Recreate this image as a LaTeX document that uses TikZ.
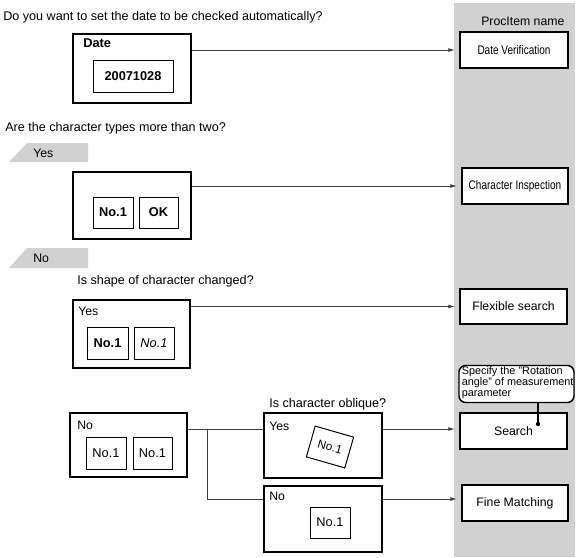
\documentclass[tikz,border=0pt]{standalone}
\usepackage{fontspec}
\setmainfont{Liberation Sans}
\newfontfamily\condfont[FakeStretch=0.8]{Liberation Sans}
\usetikzlibrary{arrows.meta}
\definecolor{panel}{gray}{0.82}
\definecolor{wire}{gray}{0.25}
\begin{document}
\begin{tikzpicture}[x=0.75pt,y=-0.75pt,
  every node/.style={font=\fontsize{9.2}{11}\selectfont, inner sep=0pt},
  sz/.style 2 args={minimum width=#1*0.75pt, minimum height=#2*0.75pt},
  obox/.style={draw, line width=1.5pt, fill=white},
  ibox/.style={draw, line width=0.75pt, fill=white},
  pbox/.style={draw, line width=1.5pt, fill=white},
  bfont/.style={font=\fontsize{9.6}{11}\selectfont\bfseries},
  lab/.style={anchor=base west},
  question/.style={anchor=base west, font=\fontsize{9.45}{11}\selectfont},
  tabshape/.style={fill=panel, draw=none},
  wireline/.style={draw=wire, line width=0.75pt},
  arr/.style={wireline, -{Latex[length=5pt,width=3pt]}, shorten >=3pt}
]
\useasboundingbox (0,0) rectangle (578,557);
% gray column
\fill[panel] (454,3) rectangle (575,557);
\node[lab] (phead) at (481,25) {ProcItem name};

% captions
\node[question] (q1) at (3,20) {Do you want to set the date to be checked automatically?};
\node[question] (q2) at (5,131) {Are the character types more than two?};
\node[question] (q3) at (77,284) {Is shape of character changed?};
\node[question] (q4) at (269,407) {Is character oblique?};

% tabs
\fill[tabshape] (9,162) -- (27,143) -- (88,143) -- (88,162) -- cycle;
\node[lab] (tyes) at (33,157) {Yes};
\fill[tabshape] (9,268) -- (27,248) -- (88,248) -- (88,268) -- cycle;
\node[lab] (tno) at (33,262) {No};

% proc item boxes
\node[pbox, sz={108}{36}, font=\fontsize{9.4}{11}\condfont] (datev) at (514,50) {Date Verification};
\node[pbox, sz={106}{36}, font=\fontsize{9.4}{11}\condfont] (chari) at (515,186) {Character Inspection};
\node[pbox, sz={107}{35}] (flex) at (513.5,306.5) {Flexible search};
\node[pbox, sz={107}{36}] (search) at (513.5,431) {Search};
\node[pbox, sz={106}{36}] (fine) at (515,503) {Fine Matching};
\node[draw, line width=1.1pt, rounded corners=5pt, fill=white, sz={115}{37}] (callout) at (516.5,384) {};
\node[anchor=base west, align=left, font=\fontsize{8.15}{6.75}\selectfont] (callouttext) at (461.5,396.5) {Specify the "Rotation\\angle" of measurement\\parameter};
\node[circle, fill=black, minimum size=3.2pt] (dot) at (538,424) {};
\draw[line width=1pt] (dot |- callout.south) -- (dot.center);

% box 1: date
\node[obox, sz={118}{69}] (datebox) at (132,68.5) {};
\node[lab, bfont] (datelab) at (83,47) {Date};
\node[ibox, sz={80}{32}, bfont] (datenum) at (133,76) {20071028};

% box 2
\node[obox, sz={118}{67}] (box2) at (132,205.5) {};
\node[ibox, sz={40}{31}, bfont] (b2a) at (113,212.5) {No.1};
\node[ibox, sz={39}{31}, bfont] (b2b) at (158.5,212.5) {OK};

% box 3
\node[obox, sz={117}{68}] (box3) at (131.5,334) {};
\node[lab] (b3lab) at (78,315) {Yes};
\node[ibox, sz={41}{32}, bfont] (b3a) at (107.5,343) {No.1};
\node[ibox, sz={40}{32}, font=\fontsize{9.6}{11}\selectfont\itshape] (b3b) at (154,343) {No.1};

% box 4
\node[obox, sz={117}{64}] (box4) at (128.5,445) {};
\node[lab] (b4lab) at (77,429) {No};
\node[ibox, sz={40}{32}, font=\fontsize{9.6}{11}\selectfont] (b4a) at (106,453) {No.1};
\node[ibox, sz={39}{32}, font=\fontsize{9.6}{11}\selectfont] (b4b) at (152.5,453) {No.1};

% box 5
\node[obox, sz={118}{65}] (box5) at (323,445.5) {};
\node[lab] (b5lab) at (269,430) {Yes};
\node[ibox, sz={40}{32}, rotate=-16, font=\fontsize{8.8}{10}\selectfont] (b5a) at (330,447) {No.1};

% box 6
\node[obox, sz={118}{66}] (box6) at (323,519) {};
\node[lab] (b6lab) at (269,500) {No};
\node[ibox, sz={40}{31}, font=\fontsize{9.6}{11}\selectfont] (b6a) at (330,522.5) {No.1};

% connector heights
\coordinate (ysearch) at (0,429);
\coordinate (yfine) at (0,499);
\coordinate (junction) at (207,429);

% connectors
\draw[arr] (datebox.east |- datev.west) -- (datev.west);
\draw[arr] (box2.east |- chari.west) -- (chari.west);
\draw[arr] (box3.east |- flex.west) -- (flex.west);
\draw[arr] (box5.east |- ysearch) -- (search.west |- ysearch);
\draw[arr] (box6.east |- yfine) -- (fine.west |- yfine);
\draw[wireline] (box4.east |- ysearch) -- (box5.west |- ysearch);
\draw[wireline] (junction) -- (junction |- yfine) -- (box6.west |- yfine);
\end{tikzpicture}
\end{document}
